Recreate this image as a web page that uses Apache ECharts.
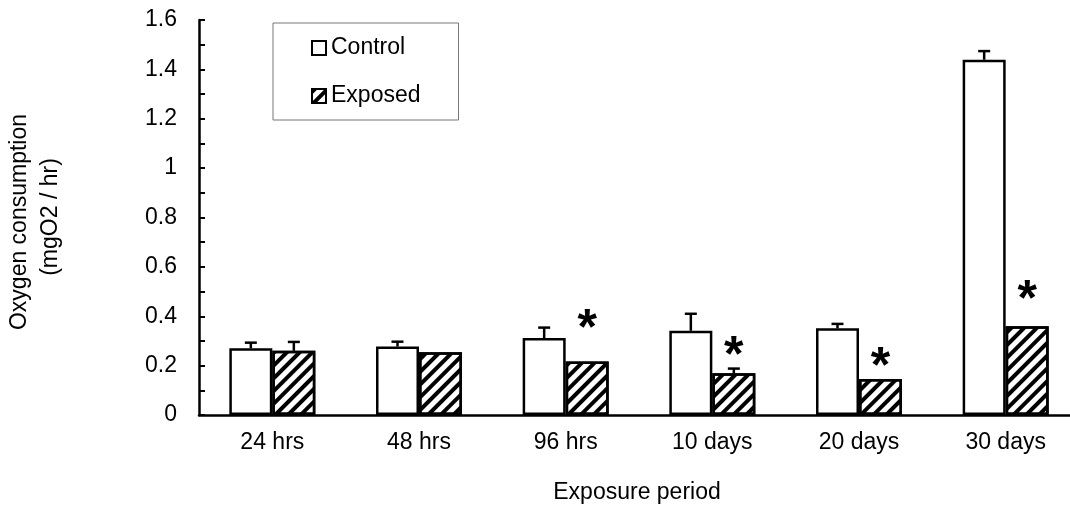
<!DOCTYPE html>
<html>
<head>
<meta charset="utf-8">
<script src="https://cdn.jsdelivr.net/npm/echarts@6/dist/echarts.min.js"></script>
<style>
  html, body { margin: 0; padding: 0; background: #fff; overflow: hidden; }
  #chart { width: 1082px; height: 508px; }
</style>
</head>
<body>
<div id="chart"></div>
<script>
const categories = ['24 hrs', '48 hrs', '96 hrs', '10 days', '20 days', '30 days'];
const controlValues = [0.270, 0.277, 0.312, 0.341, 0.351, 1.439];
const controlErrors = [0.023, 0.020, 0.042, 0.069, 0.018, 0.035];
const exposedValues = [0.260, 0.254, 0.217, 0.169, 0.146, 0.360];
const exposedErrors = [0.036, 0, 0, 0.019, 0, 0];
const starPositions = [null, null, 0.385, 0.273, 0.229, 0.500];
const yTicks = { min: 0, max: 1.6, interval: 0.2 };
const yTitle = ['Oxygen consumption', '(mgO2 / hr)'];
const xTitle = 'Exposure period';

const FONT = "'Liberation Sans', Arial, sans-serif";
const BAR_W = 43;

const chart = echarts.init(document.getElementById('chart'), null, { renderer: 'canvas' });

function errorSeries(values, errors, off) {
  return {
    type: 'custom',
    silent: true,
    z: 5,
    data: values.map((v, i) => [i, v, errors[i]]),
    renderItem: function (params, api) {
      const e = api.value(2);
      if (!e) return null;
      const base = api.coord([api.value(0), api.value(1)]);
      const top = api.coord([api.value(0), api.value(1) + e]);
      const x = base[0] + off;
      return {
        type: 'group',
        children: [
          { type: 'line', shape: { x1: x, y1: base[1], x2: x, y2: top[1] }, style: { stroke: '#000', lineWidth: 2.5 } },
          { type: 'line', shape: { x1: x - 6, y1: top[1], x2: x + 6, y2: top[1] }, style: { stroke: '#000', lineWidth: 2.5 } }
        ]
      };
    }
  };
}

const hatch = {
  symbol: 'rect',
  symbolSize: 1,
  color: '#000',
  dashArrayX: [1, 0],
  dashArrayY: [3.5, 4.5],
  rotation: -Math.PI / 4
};

chart.setOption({
  animation: false,
  backgroundColor: '#fff',
  textStyle: { fontFamily: FONT },
  grid: { left: 199, top: 20, width: 880, height: 395, containLabel: false },
  legend: {
    left: 273, top: 23,
    orient: 'vertical',
    selectedMode: false,
    data: ['Control', 'Exposed'],
    itemWidth: 14, itemHeight: 14,
    itemGap: 24,
    padding: [13, 38, 12, 38],
    borderColor: '#777', borderWidth: 1,
    textStyle: { fontSize: 23, color: '#000', fontFamily: FONT, lineHeight: 24 },
    icon: 'rect'
  },
  xAxis: {
    type: 'category',
    data: categories,
    axisLine: { lineStyle: { color: '#000', width: 2.5 } },
    axisTick: { inside: true, length: 7, lineStyle: { color: '#000', width: 2 } },
    axisLabel: { fontSize: 23, color: '#000', margin: 16, fontFamily: FONT },
    splitLine: { show: false }
  },
  yAxis: {
    type: 'value',
    min: yTicks.min, max: yTicks.max, interval: yTicks.interval,
    axisLine: { show: true, lineStyle: { color: '#000', width: 2.5 } },
    axisTick: { show: true, inside: true, length: 6, lineStyle: { color: '#000', width: 2 } },
    minorTick: { show: true, splitNumber: 2, length: 6, lineStyle: { color: '#000', width: 2 } },
    axisLabel: { fontSize: 23, color: '#000', margin: 22, fontFamily: FONT, formatter: v => String(Math.round(v * 10) / 10) },
    splitLine: { show: false }
  },
  graphic: [
    { type: 'text', x: 20, y: 222, rotation: Math.PI / 2, style: { text: yTitle[0], font: '23px ' + FONT, fill: '#000', textAlign: 'center', textVerticalAlign: 'middle' } },
    { type: 'text', x: 51, y: 217, rotation: Math.PI / 2, style: { text: yTitle[1], font: '23px ' + FONT, fill: '#000', textAlign: 'center', textVerticalAlign: 'middle' } },
    { type: 'text', x: 637, y: 493, style: { text: xTitle, font: '23px ' + FONT, fill: '#000', textAlign: 'center', textVerticalAlign: 'middle' } }
  ],
  series: [
    {
      name: 'Control', type: 'bar', data: controlValues,
      barWidth: BAR_W, barGap: '0%',
      itemStyle: { color: '#fff', borderColor: '#000', borderWidth: 2.5 }
    },
    {
      name: 'Exposed', type: 'bar', data: exposedValues,
      barWidth: BAR_W, barGap: '0%',
      itemStyle: { color: '#fff', borderColor: '#000', borderWidth: 2.5, decal: hatch }
    },
    errorSeries(controlValues, controlErrors, -BAR_W / 2),
    errorSeries(exposedValues, exposedErrors, BAR_W / 2),
    {
      type: 'custom', silent: true, z: 6,
      data: starPositions.map((v, i) => [i, v == null ? 0 : v, v == null ? 0 : 1]),
      renderItem: function (params, api) {
        if (!api.value(2)) return null;
        const p = api.coord([api.value(0), api.value(1)]);
        return { type: 'text', x: p[0] + BAR_W / 2, y: p[1] + 10,
          style: { text: '*', font: 'bold 50px ' + FONT, fill: '#000', textAlign: 'center', textVerticalAlign: 'middle' } };
      }
    }
  ]
});
</script>
</body>
</html>
